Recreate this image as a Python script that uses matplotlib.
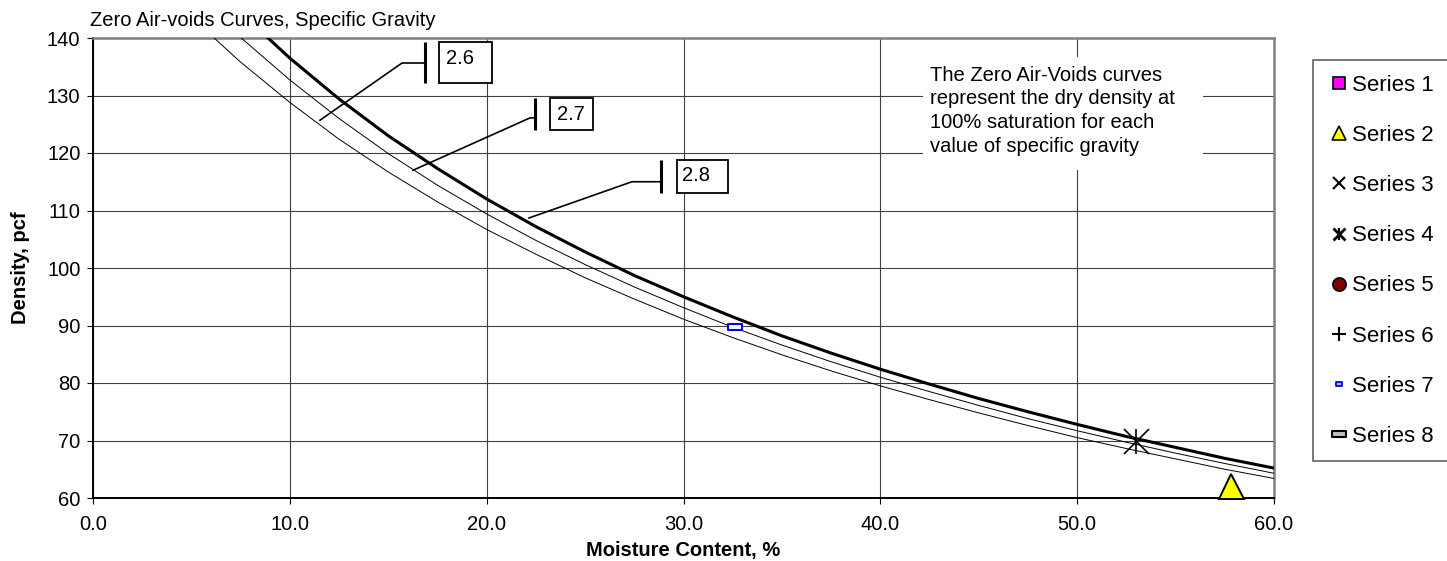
"""Zero air-voids curves chart (moisture content vs dry density)."""

import matplotlib.pyplot as plt
from matplotlib.lines import Line2D
from matplotlib.patches import Rectangle
from matplotlib.path import Path

plt.rcParams["font.family"] = ["Liberation Sans", "DejaVu Sans"]

# moisture content, % (shared by the three curves)
moisture = [5.0, 7.5, 10.0, 12.5, 15.0, 17.5, 20.0, 22.5, 25.0, 27.5, 30.0,
            32.5, 35.0, 37.5, 40.0, 42.5, 45.0, 47.5, 50.0, 52.5, 55.0,
            57.5, 60.0]
# dry density at 100% saturation, pcf
zav_26 = [143.6, 135.8, 128.8, 122.4, 116.7, 111.5, 106.7, 102.4, 98.3,
          94.6, 91.1, 87.9, 84.9, 82.1, 79.5, 77.1, 74.8, 72.6, 70.5, 68.6,
          66.8, 65.0, 63.4]
zav_27 = [148.4, 140.1, 132.7, 126.0, 119.9, 114.4, 109.4, 104.8, 100.6,
          96.7, 93.1, 89.7, 86.6, 83.7, 81.0, 78.5, 76.1, 73.8, 71.7, 69.7,
          67.8, 66.0, 64.3]
zav_28 = [153.3, 144.4, 136.5, 129.4, 123.0, 117.3, 112.0, 107.2, 102.8,
          98.7, 95.0, 91.5, 88.2, 85.2, 82.4, 79.8, 77.3, 75.0, 72.8, 70.7,
          68.8, 66.9, 65.2]

# scatter series (empty ones only show in the legend)
series_labels = ["Series 1", "Series 2", "Series 3", "Series 4",
                 "Series 5", "Series 6", "Series 7", "Series 8"]
s1_x, s1_y = [], []
s2_x, s2_y = [57.8], [62.1]
s3_x, s3_y = [], []
s4_x, s4_y = [53.0], [70.0]
s5_x, s5_y = [], []
s6_x, s6_y = [], []
s7_x, s7_y = [32.6], [89.7]
s8_x, s8_y = [], []

gs_labels = ["2.6", "2.7", "2.8"]

RECT = Path([(-1, -0.46), (1, -0.46), (1, 0.46), (-1, 0.46), (-1, -0.46)],
            [Path.MOVETO, Path.LINETO, Path.LINETO, Path.LINETO,
             Path.CLOSEPOLY])
FS = 14.5

fig = plt.figure(figsize=(14.47, 5.61), dpi=100)
ax = fig.add_axes([93 / 1447, 1 - 498 / 561, 1181 / 1447, 460 / 561])

ax.plot(moisture, zav_26, color="black", lw=0.7, zorder=3)
ax.plot(moisture, zav_27, color="black", lw=0.7, zorder=3)
ax.plot(moisture, zav_28, color="black", lw=2.2, zorder=3)

ax.plot(s1_x, s1_y, ls="none", marker="s", mfc="#ff00ff", mec="black")
ax.plot(s2_x, s2_y, ls="none", marker="^", ms=18, mfc="#ffff00",
        mec="black", mew=1.4, zorder=5, clip_on=False)
ax.plot(s3_x, s3_y, ls="none", marker="x", color="black")
ax.plot(s4_x, s4_y, ls="none", marker="x", ms=18, mew=1.2, color="black",
        zorder=5)
ax.plot(s4_x, s4_y, ls="none", marker="|", ms=18, mew=1.2, color="black",
        zorder=5)
ax.plot(s5_x, s5_y, ls="none", marker="o", mfc="#800000", mec="black")
ax.plot(s6_x, s6_y, ls="none", marker="+", color="black")
ax.plot(s7_x, s7_y, ls="none", marker=RECT, ms=9.4, mfc="white",
        mec="#0000ff", mew=1.5, zorder=5)
ax.plot(s8_x, s8_y, ls="none", marker=RECT, mfc="#c0c0c0", mec="black")

ax.set_xlim(0, 60)
ax.set_ylim(60, 140)
ax.set_xticks(range(0, 61, 10))
ax.set_xticklabels([f"{v:.1f}" for v in range(0, 61, 10)])
ax.set_yticks(range(60, 141, 10))
ax.grid(True, color="#404040", lw=0.8, zorder=1)
ax.set_axisbelow(True)
ax.tick_params(direction="out", length=4, width=0.8, labelsize=FS,
               colors="black")
ax.tick_params(axis="x", pad=8)
ax.tick_params(axis="y", pad=5)
for side in ("left", "bottom"):
    ax.spines[side].set_color("black")
    ax.spines[side].set_linewidth(1.4)
for side in ("top", "right"):
    ax.spines[side].set_color("#808080")
    ax.spines[side].set_linewidth(1.8)

ax.set_xlabel("Moisture Content, %", fontsize=FS, fontweight="bold",
              labelpad=5)
ax.set_ylabel("Density, pcf", fontsize=FS, fontweight="bold", labelpad=12)

# callouts: leader start, elbow, bar x, bar y-range, box, text position
callouts = [
    ((11.53, 125.7), (15.70, 135.65), 16.87, (132.2, 139.3),
     (17.58, 20.27), (17.93, 136.4)),
    ((16.26, 117.0), (22.20, 126.1), 22.46, (124.0, 129.6),
     (23.22, 25.40), (23.57, 126.7)),
    ((22.15, 108.7), (27.38, 115.0), 28.86, (113.0, 118.8),
     (29.67, 32.26), (29.92, 116.05)),
]
for label, (p0, p1, xt, (yb, yt), (bx0, bx1), (tx, ty)) in zip(
        gs_labels, callouts):
    ax.plot([p0[0], p1[0], xt], [p0[1], p1[1], p1[1]], color="black",
            lw=1.2, zorder=4, solid_joinstyle="miter")
    ax.plot([xt, xt], [yb, yt], color="black", lw=2.2, zorder=4,
            solid_capstyle="butt")
    ax.add_patch(Rectangle((bx0, yb), bx1 - bx0, yt - yb, fc="white",
                           ec="black", lw=1.3, zorder=5))
    ax.text(tx, ty, label, fontsize=FS, va="center", ha="left", zorder=6)

# explanatory note
ax.add_patch(Rectangle((42.17, 117.0), 14.2, 19.7, fc="white", ec="none",
                       zorder=2))
ax.text(42.5, 135.2,
        "The Zero Air-Voids curves\nrepresent the dry density at\n"
        "100% saturation for each\nvalue of specific gravity",
        fontsize=FS, va="top", ha="left", linespacing=1.32, zorder=6)

fig.text(90 / 1447, 1 - 26 / 561, "Zero Air-voids Curves, Specific Gravity",
         fontsize=FS, va="baseline", ha="left")

# legend in its own box at the right
fig.patches.append(Rectangle((1313 / 1447, 1 - 461 / 561), 0.2,
                             401 / 561, transform=fig.transFigure,
                             fc="white", ec="#707070", lw=1.3))
handles = [
    Line2D([], [], ls="none", marker="s", ms=9, mfc="#ff00ff", mec="black",
           mew=1.2),
    Line2D([], [], ls="none", marker="^", ms=9.5, mfc="#ffff00",
           mec="black", mew=1.2),
    Line2D([], [], ls="none", marker="x", ms=9, mew=1.5, color="black"),
    (Line2D([], [], ls="none", marker="x", ms=8.5, mew=2, color="black"),
     Line2D([], [], ls="none", marker="|", ms=8.5, mew=1.6, color="black")),
    Line2D([], [], ls="none", marker="o", ms=9.5, mfc="#800000",
           mec="black", mew=1.2),
    Line2D([], [], ls="none", marker="+", ms=10, mew=1.5, color="black"),
    Line2D([], [], ls="none", marker=RECT, ms=5, mfc="#c0c0ff",
           mec="#0000ff", mew=1.3),
    Line2D([], [], ls="none", marker=RECT, ms=10, mfc="#c0c0c0",
           mec="black", mew=1.5),
]
fig.legend(handles, series_labels, loc="upper left",
           bbox_to_anchor=(1329 / 1447, 1 - 75 / 561), frameon=False,
           fontsize=16, handlelength=0.9, handletextpad=0.15,
           labelspacing=1.31, borderpad=0, borderaxespad=0)

fig.savefig("out.png", dpi=100)
